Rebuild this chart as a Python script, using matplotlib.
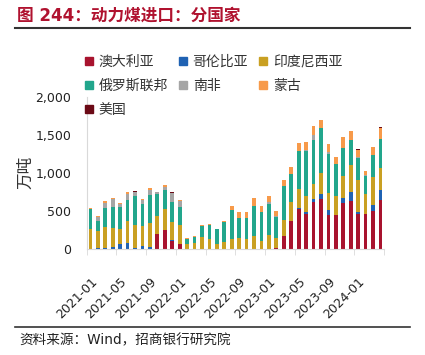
import numpy as np
import matplotlib
matplotlib.use("Agg")
import matplotlib.pyplot as plt
from matplotlib.lines import Line2D

plt.rcParams['font.family'] = ['DejaVu Sans', 'Noto Sans CJK SC']

months = [f"{y}-{m:02d}" for y in (2021, 2022, 2023, 2024) for m in range(1, 13)][:40]

australia = [0, 0, 0, 0, 0, 0, 0, 0, 0, 197, 255, 100, 65, 0, 0, 0, 0, 0, 0, 0,
             0, 0, 0, 0, 0, 12, 175, 370, 520, 463, 620, 660, 448, 446, 607, 625, 460, 466, 503, 648]
colombia = [0, 9, 12, 28, 65, 80, 13, 38, 27, 0, 0, 15, 0, 0, 0, 0, 0, 0, 0, 0,
            0, 0, 0, 0, 0, 0, 0, 0, 22, 22, 40, 63, 62, 0, 63, 127, 30, 0, 74, 122]
indonesia = [258, 222, 272, 251, 195, 285, 300, 260, 311, 233, 265, 245, 248, 60, 75, 160, 130, 68, 90, 125,
             150, 135, 177, 105, 190, 135, 205, 244, 240, 207, 200, 271, 220, 247, 290, 345, 412, 256, 367, 300]
russia = [266, 131, 248, 277, 293, 284, 387, 289, 377, 297, 251, 255, 237, 77, 85, 140, 185, 200, 266, 385,
          256, 271, 391, 384, 405, 277, 442, 377, 504, 590, 572, 596, 522, 421, 368, 340, 292, 234, 284, 375]
south_africa = [0, 52, 75, 100, 44, 79, 52, 50, 62, 15, 45, 115, 80, 0, 0, 0, 0, 0, 0, 0,
                0, 0, 0, 0, 22, 8, 0, 0, 0, 20, 60, 0, 22, 0, 0, 0, 14, 13, 0, 0]
mongolia = [10, 14, 20, 18, 10, 16, 0, 16, 20, 12, 20, 0, 18, 8, 5, 10, 8, 0, 6, 55,
            85, 80, 100, 72, 75, 70, 82, 85, 112, 98, 120, 98, 105, 92, 140, 110, 88, 54, 110, 150]
usa = [0, 0, 0, 0, 0, 0, 15, 0, 0, 0, 0, 17, 0, 0, 0, 0, 0, 0, 0, 0,
       0, 0, 0, 0, 0, 0, 0, 0, 0, 0, 0, 0, 0, 0, 0, 0, 22, 0, 0, 12]

series = [
    ("澳大利亚", australia, "#A8132E"),
    ("哥伦比亚", colombia, "#1F62B3"),
    ("印度尼西亚", indonesia, "#C9A022"),
    ("俄罗斯联邦", russia, "#22A68C"),
    ("南非", south_africa, "#A5A5A5"),
    ("蒙古", mongolia, "#F79A4A"),
    ("美国", usa, "#6B0A16"),
]

fig = plt.figure(figsize=(4.25, 3.55), dpi=100)
ax = fig.add_axes([0.204, 0.2986, 0.700, 0.4290])

x = np.arange(len(months))
bottom = np.zeros(len(months))
handles = {}
for name, vals, color in series:
    vals = np.array(vals, dtype=float)
    ax.bar(x, vals, bottom=bottom, width=0.5, color=color, linewidth=0)
    bottom += vals
    handles[name] = Line2D([], [], marker="s", linestyle="none", markersize=6,
                           markerfacecolor=color, markeredgecolor=color)

ax.set_xlim(-0.5, len(months) - 0.5)
ax.set_ylim(0, 2000)
ax.set_yticks([0, 500, 1000, 1500, 2000])
ax.set_yticklabels(["0", "500", "1,000", "1,500", "2,000"])
ax.set_xticks(x[::4])
ax.set_xticklabels(months[::4], rotation=45, ha="right", rotation_mode="anchor")
ax.set_xticks(np.arange(-0.5, len(months), 4), minor=True)
ax.tick_params(axis="x", which="major", length=0, pad=19, labelsize=9, colors="#222222")
ax.tick_params(axis="x", which="minor", length=4, color="#D9D9D9")
ax.tick_params(axis="y", length=0, labelsize=9, colors="#222222", pad=11)

for s in ("top", "right"):
    ax.spines[s].set_visible(False)
ax.spines["left"].set_color("#D9D9D9")
ax.spines["bottom"].set_color("#D9D9D9")
ax.set_ylabel("万吨", fontsize=12, color="#333333", labelpad=1)

order = ["澳大利亚", "俄罗斯联邦", "美国", "哥伦比亚", "南非", "印度尼西亚", "蒙古"]
fig.legend([handles[n] for n in order], order, ncol=3, frameon=False,
           loc="upper left", bbox_to_anchor=(0.166, 0.880), fontsize=10,
           handlelength=0.8, handletextpad=0.3, columnspacing=0.7, labelspacing=0.72,
           labelcolor="#333333")

fig.text(0.04, 0.955, "图 244：动力煤进口：分国家", fontsize=12, fontweight="bold",
         color="#B0122F", va="center", ha="left")
fig.add_artist(Line2D([0.035, 0.965], [0.92, 0.92], color="#333333", linewidth=1.5))
fig.add_artist(Line2D([0.035, 0.965], [0.078, 0.078], color="#333333", linewidth=1.2))
fig.text(0.045, 0.042, "资料来源：Wind，招商银行研究院", fontsize=9.8, color="#222222",
         va="center", ha="left")

fig.savefig("out.png", dpi=100)
